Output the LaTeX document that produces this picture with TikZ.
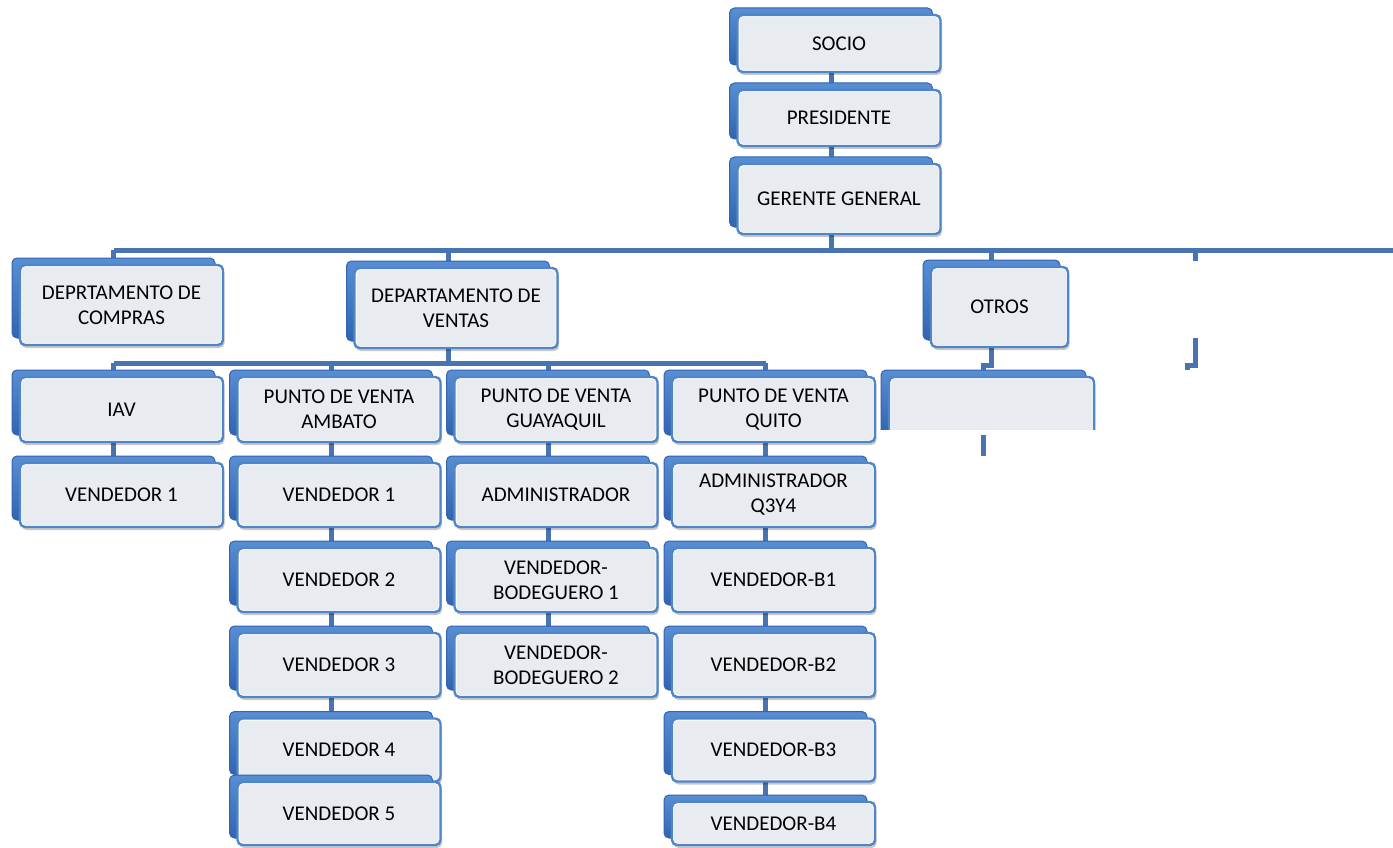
\documentclass[tikz,border=0pt]{standalone}
\usepackage{fontspec}
\setmainfont{Carlito}
\usetikzlibrary{shadows}
\pgfdeclarelayer{background}
\pgfsetlayers{background,main}
\definecolor{linkblue}{RGB}{72,117,178}
\definecolor{boxline}{RGB}{80,134,200}
\definecolor{boxfill}{RGB}{232,235,240}
\definecolor{backtop}{RGB}{88,142,212}
\definecolor{backbot}{RGB}{50,100,176}
\newcommand\orgfont{\fontsize{21}{25}\selectfont}

\begin{document}
\begin{tikzpicture}[x=1pt,y=-1pt,
  orgbox/.style={rectangle, rounded corners=5pt, minimum width=203pt,
    inner sep=2pt, align=center, font=\orgfont, text=black,
    fill=boxfill, draw=boxline, line width=2.4pt,
    general shadow={shade, top color=backtop, bottom color=backbot,
      draw=backbot, line width=1pt, shadow xshift=-8pt, shadow yshift=7pt},
    drop shadow={opacity=0.22, fill=black, shadow xshift=1.5pt, shadow yshift=-3pt},
    path picture={\draw[white, line width=4pt, rounded corners=5pt]
      (path picture bounding box.south west) rectangle (path picture bounding box.north east);}},
  link/.style={draw=linkblue, line width=5pt}]
\useasboundingbox (0,0) rectangle (1393,848);

% top chain
\node[orgbox, minimum height=57pt] (socio) at (839,43.5) {SOCIO};
\node[orgbox, minimum height=56pt] (pres) at (839,118) {PRESIDENTE};
\node[orgbox, minimum height=70pt] (ger) at (839,199) {GERENTE GENERAL};

% departments
\node[orgbox, minimum height=80pt] (compras) at (121.5,305) {DEPRTAMENTO DE\\COMPRAS};
\node[orgbox, minimum height=80pt] (ventas) at (456,308) {DEPARTAMENTO DE\\VENTAS};
\node[orgbox, minimum height=80pt, minimum width=137pt] (otros) at (999.5,307) {OTROS};

% third level
\node[orgbox, minimum height=65pt] (iav) at (121.5,409.5) {IAV};
\node[orgbox, minimum height=65pt] (amb) at (339,409.5) {PUNTO DE VENTA\\AMBATO};
\node[orgbox, minimum height=65pt] (guay) at (556,409.5) {PUNTO DE VENTA\\GUAYAQUIL};
\node[orgbox, minimum height=65pt] (quito) at (773.5,409.5) {PUNTO DE VENTA\\QUITO};
\node[orgbox, minimum height=65pt, minimum width=205pt] (vacio) at (991.5,409.5) {};
\fill[white] (879,430) rectangle (1105,465);

% IAV column
\node[orgbox, minimum height=64pt] (iv1) at (121.5,495) {VENDEDOR 1};

% Ambato column
\node[orgbox, minimum height=64pt] (a1) at (339,495) {VENDEDOR 1};
\node[orgbox, minimum height=64pt] (a2) at (339,580) {VENDEDOR 2};
\node[orgbox, minimum height=64pt] (a3) at (339,665) {VENDEDOR 3};
\node[orgbox, minimum height=63pt] (a4) at (339,750) {VENDEDOR 4};
\node[orgbox, minimum height=63pt] (a5) at (339,813.5) {VENDEDOR 5};

% Guayaquil column
\node[orgbox, minimum height=64pt] (g1) at (556,495) {ADMINISTRADOR};
\node[orgbox, minimum height=64pt] (g2) at (556,580) {VENDEDOR-\\BODEGUERO 1};
\node[orgbox, minimum height=64pt] (g3) at (556,665) {VENDEDOR-\\BODEGUERO 2};

% Quito column
\node[orgbox, minimum height=64pt] (q1) at (773.5,495) {ADMINISTRADOR\\Q3Y4};
\node[orgbox, minimum height=64pt] (q2) at (773.5,580) {VENDEDOR-B1};
\node[orgbox, minimum height=64pt] (q3) at (773.5,665) {VENDEDOR-B2};
\node[orgbox, minimum height=63pt] (q4) at (773.5,750) {VENDEDOR-B3};
\node[orgbox, minimum height=43pt] (q5) at (773.5,823.5) {VENDEDOR-B4};

% stray connector pieces
\coordinate (stubtop) at (1195,250);
\coordinate (stubend) at (1195,261);
\coordinate (jtop) at (1195,338);
\coordinate (jend) at (1187.5,370);
\coordinate (bartop) at (983,435);
\coordinate (barend) at (983,456);
\draw[link] (bartop) -- (barend);

\begin{pgfonlayer}{background}
  % connector axes through the back plates
  \foreach \n in {socio,ger,compras,ventas,otros,iav,amb,guay,quito,vacio,iv1,a5,g3,q5}
    \coordinate (ax-\n) at ([xshift=-8pt]\n.center);
  \coordinate (bus2) at (0,250);
  \coordinate (bus3) at (0,363);
  \coordinate (jog) at (0,365);
  \coordinate (busend) at (1396,250);

  \draw[link] (ax-socio) -- (ax-ger |- bus2);
  \draw[link] (ax-compras |- bus2) -- (busend);
  \draw[link] (ax-compras |- bus2) -- (ax-compras);
  \draw[link] (ax-ventas |- bus2) -- (ax-ventas);
  \draw[link] (ax-otros |- bus2) -- (ax-otros);
  \draw[link] (stubtop) -- (stubend);

  \draw[link] (ax-iav |- bus3) -- (ax-quito |- bus3);
  \draw[link] (ax-ventas) -- (ax-ventas |- bus3);
  \draw[link] (ax-iav |- bus3) -- (ax-iv1);
  \draw[link] (ax-amb |- bus3) -- (ax-a5);
  \draw[link] (ax-guay |- bus3) -- (ax-g3);
  \draw[link] (ax-quito |- bus3) -- (ax-q5);

  \draw[link] (ax-otros) -- (ax-otros |- jog) -- (ax-vacio |- jog) -- (ax-vacio);
  \draw[link] (jtop) -- (jtop |- jog) -- (jend |- jog) -- (jend);
\end{pgfonlayer}
\end{tikzpicture}
\end{document}
